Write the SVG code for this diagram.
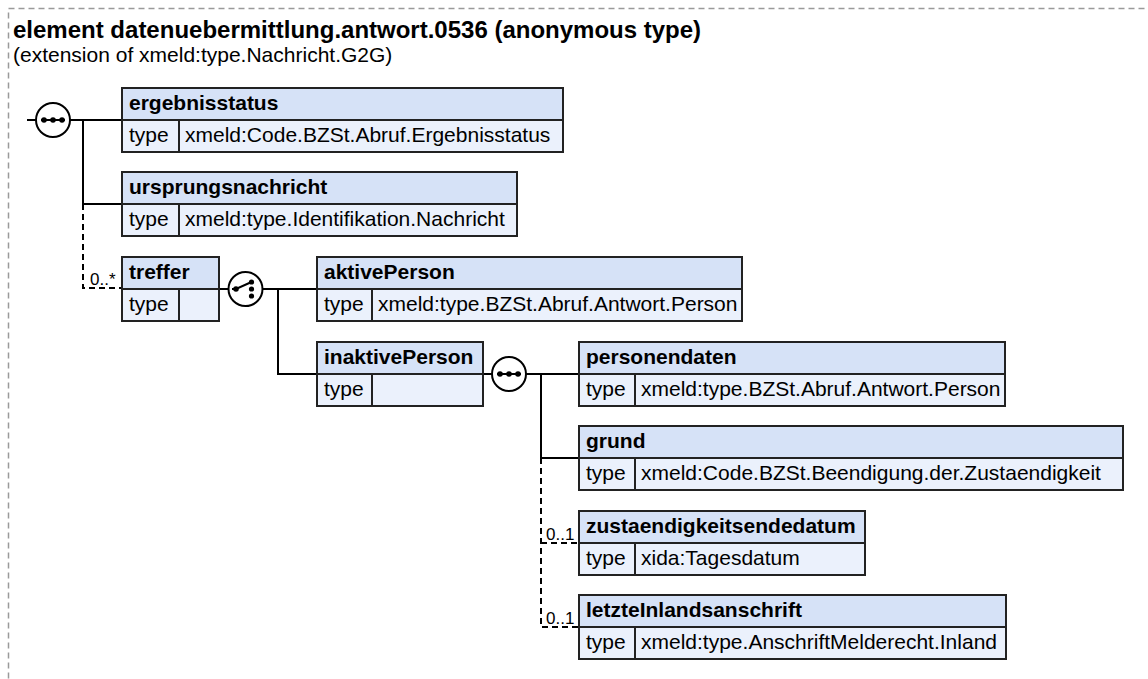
<svg xmlns="http://www.w3.org/2000/svg" width="1148" height="679" viewBox="0 0 1148 679">
<style>
.hdr{fill:#d6e2f7;stroke:#222;stroke-width:2}
.row{fill:#ebf1fc;stroke:#222;stroke-width:2}
.sep{stroke:#222;stroke-width:2}
.t{font-family:"Liberation Sans",Arial,sans-serif;font-size:21px;fill:#000}
.b{font-weight:bold}
.ttl{font-size:24px;font-weight:bold}
.card{font-size:17px}
.ln{stroke:#000;stroke-width:2;fill:none}
.dash{stroke-dasharray:6 4}
.icon{fill:#fff;stroke:#000;stroke-width:2}
.dot{fill:#000}
</style>
<rect x="8.5" y="8.5" width="1200" height="720" fill="none" stroke="#9a9a9a" stroke-width="1.5" stroke-dasharray="6 4"/>
<text class="t ttl" x="13" y="38">element datenuebermittlung.antwort.0536 (anonymous type)</text>
<text class="t" x="13" y="62">(extension of xmeld:type.Nachricht.G2G)</text>

<g id="connectors">
<path class="ln" d="M27,120H36M70,120H122M83,120V204H122M219,289H228M263,289H317M278,289V374H317M483,374H492M526,374H579M541,374V458H579"/>
<path class="ln dash" d="M83,204V288H122M541,458V627H579M541,543H579"/>
<text class="t card" x="90" y="285">0..*</text>
<text class="t card" x="546" y="540">0..1</text>
<text class="t card" x="546" y="624">0..1</text>
</g>

<g id="seq1">
<circle class="icon" cx="53" cy="120" r="17"/>
<line class="ln" x1="41" y1="120" x2="65" y2="120"/>
<circle class="dot" cx="44" cy="120" r="2.8"/><circle class="dot" cx="53" cy="120" r="2.8"/><circle class="dot" cx="62" cy="120" r="2.8"/>
</g>

<g id="choice1">
<circle class="icon" cx="245.5" cy="289" r="17"/>
<path class="ln" d="M232,289H236L251.5,282"/>
<circle class="dot" cx="236" cy="289" r="2.8"/>
<circle class="dot" cx="251.5" cy="282" r="2.6"/><circle class="dot" cx="251.5" cy="289" r="2.6"/><circle class="dot" cx="251.5" cy="296" r="2.6"/>
</g>

<g id="seq2">
<circle class="icon" cx="509" cy="374" r="17"/>
<line class="ln" x1="497" y1="374" x2="521" y2="374"/>
<circle class="dot" cx="500" cy="374" r="2.8"/><circle class="dot" cx="509" cy="374" r="2.8"/><circle class="dot" cx="518" cy="374" r="2.8"/>
</g>

<g id="ergebnisstatus">
<rect class="hdr" x="122" y="88" width="441" height="32"/>
<rect class="row" x="122" y="120" width="441" height="32"/>
<line class="sep" x1="179" y1="120" x2="179" y2="152"/>
<text class="t b" x="129" y="110">ergebnisstatus</text>
<text class="t" x="129" y="142">type</text>
<text class="t" x="185" y="142">xmeld:Code.BZSt.Abruf.Ergebnisstatus</text>
</g>

<g id="ursprungsnachricht">
<rect class="hdr" x="122" y="172" width="395" height="32"/>
<rect class="row" x="122" y="204" width="395" height="32"/>
<line class="sep" x1="179" y1="204" x2="179" y2="236"/>
<text class="t b" x="129" y="194">ursprungsnachricht</text>
<text class="t" x="129" y="226">type</text>
<text class="t" x="185" y="226">xmeld:type.Identifikation.Nachricht</text>
</g>

<g id="treffer">
<rect class="hdr" x="122" y="257" width="97" height="32"/>
<rect class="row" x="122" y="289" width="97" height="32"/>
<line class="sep" x1="179" y1="289" x2="179" y2="321"/>
<text class="t b" x="129" y="279">treffer</text>
<text class="t" x="129" y="311">type</text>
</g>

<g id="aktivePerson">
<rect class="hdr" x="317" y="257" width="425" height="32"/>
<rect class="row" x="317" y="289" width="425" height="32"/>
<line class="sep" x1="372" y1="289" x2="372" y2="321"/>
<text class="t b" x="324" y="279">aktivePerson</text>
<text class="t" x="324" y="311">type</text>
<text class="t" x="378" y="311">xmeld:type.BZSt.Abruf.Antwort.Person</text>
</g>

<g id="inaktivePerson">
<rect class="hdr" x="317" y="342" width="166" height="32"/>
<rect class="row" x="317" y="374" width="166" height="32"/>
<line class="sep" x1="372" y1="374" x2="372" y2="406"/>
<text class="t b" x="324" y="364">inaktivePerson</text>
<text class="t" x="324" y="396">type</text>
</g>

<g id="personendaten">
<rect class="hdr" x="579" y="342" width="426" height="32"/>
<rect class="row" x="579" y="374" width="426" height="32"/>
<line class="sep" x1="635" y1="374" x2="635" y2="406"/>
<text class="t b" x="586" y="364">personendaten</text>
<text class="t" x="586" y="396">type</text>
<text class="t" x="641" y="396">xmeld:type.BZSt.Abruf.Antwort.Person</text>
</g>

<g id="grund">
<rect class="hdr" x="579" y="426" width="544" height="32"/>
<rect class="row" x="579" y="458" width="544" height="32"/>
<line class="sep" x1="635" y1="458" x2="635" y2="490"/>
<text class="t b" x="586" y="448">grund</text>
<text class="t" x="586" y="480">type</text>
<text class="t" x="641" y="480">xmeld:Code.BZSt.Beendigung.der.Zustaendigkeit</text>
</g>

<g id="zustaendigkeitsendedatum">
<rect class="hdr" x="579" y="511" width="286" height="32"/>
<rect class="row" x="579" y="543" width="286" height="32"/>
<line class="sep" x1="635" y1="543" x2="635" y2="575"/>
<text class="t b" x="586" y="533">zustaendigkeitsendedatum</text>
<text class="t" x="586" y="565">type</text>
<text class="t" x="641" y="565">xida:Tagesdatum</text>
</g>

<g id="letzteInlandsanschrift">
<rect class="hdr" x="579" y="595" width="427" height="32"/>
<rect class="row" x="579" y="627" width="427" height="32"/>
<line class="sep" x1="635" y1="627" x2="635" y2="659"/>
<text class="t b" x="586" y="617">letzteInlandsanschrift</text>
<text class="t" x="586" y="649">type</text>
<text class="t" x="641" y="649">xmeld:type.AnschriftMelderecht.Inland</text>
</g>
</svg>
